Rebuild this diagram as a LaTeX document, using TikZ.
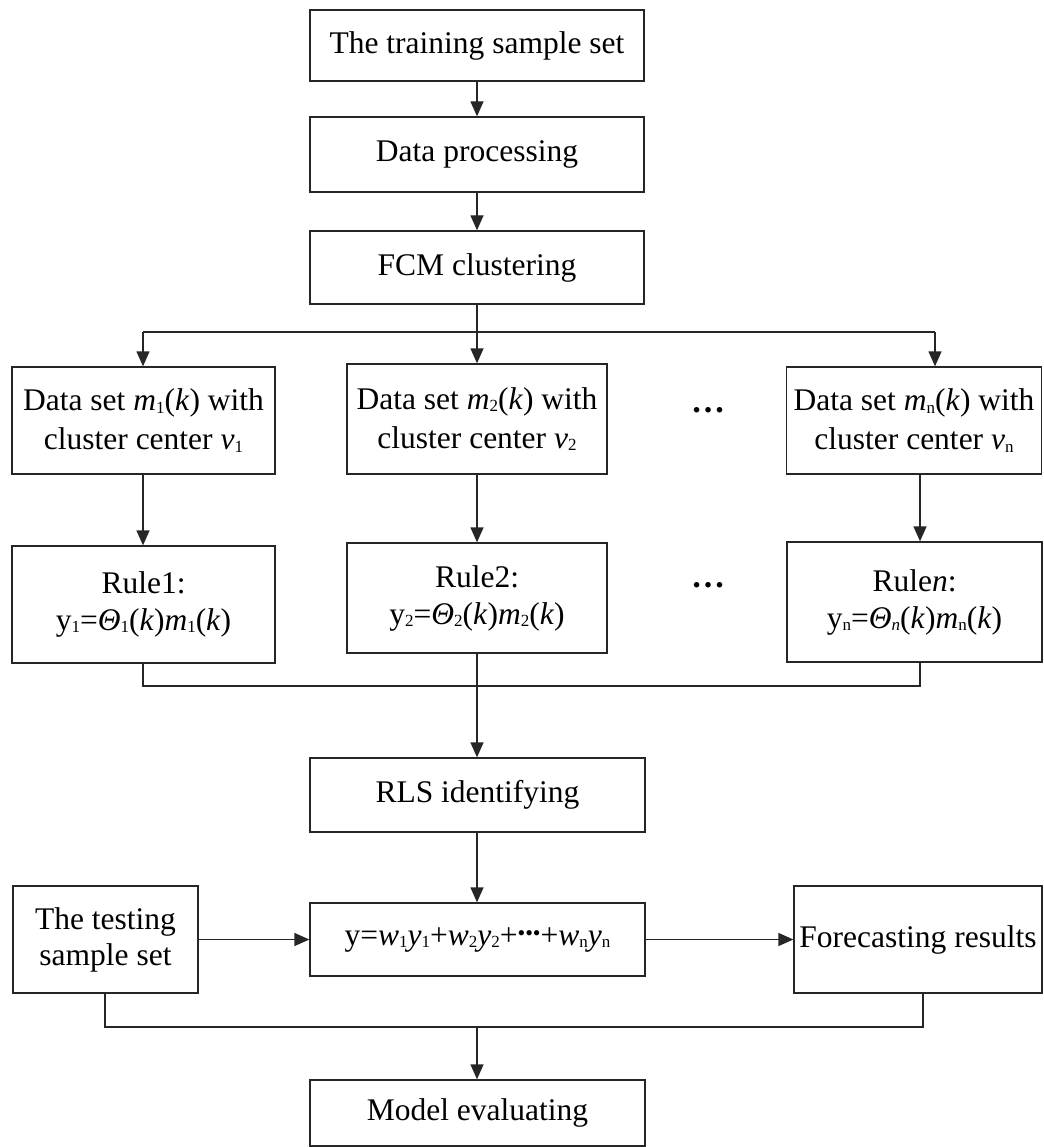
\documentclass[tikz,border=0pt]{standalone}
\usepackage{fontspec}
\setmainfont{Liberation Serif}
\usetikzlibrary{arrows.meta}
\newcommand{\sbs}[1]{\raisebox{-0.07em}{\fontsize{17pt}{17pt}\selectfont #1}}
\newcommand{\itx}[1]{\textit{#1}}
\begin{document}
\begin{tikzpicture}[x=1pt,y=-1pt,
  box/.style={draw=black!85, line width=1.3pt, rectangle, inner sep=0pt, align=center,
    font=\fontsize{31.5pt}{39pt}\selectfont},
  conn/.style={draw=black!85, line width=1.3pt},
  arr/.style={conn, -{Triangle[length=15pt,width=13pt]}}]
\useasboundingbox (0,0) rectangle (1043,1147);
% top chain
\node[box, minimum width=334pt, minimum height=71pt] (b1) at (477,45.5) {The training sample set};
\node[box, minimum width=334pt, minimum height=75pt] (b2) at (477,154.5) {Data processing};
\node[box, minimum width=334pt, minimum height=73pt] (b3) at (477,267.5) {FCM clustering};
% data set boxes
\node[box, minimum width=263pt, minimum height=107pt] (d1) at (143.5,420.5)
  {Data set \itx{m}\sbs{1}(\itx{k}) with\\cluster center \itx{v}\sbs{1}};
\node[box, minimum width=260pt, minimum height=110pt] (d2) at (477,419)
  {Data set \itx{m}\sbs{2}(\itx{k}) with\\cluster center \itx{v}\sbs{2}};
\node[box, minimum width=255pt, minimum height=107pt] (dn) at (914,420.5)
  {Data set \itx{m}\sbs{n}(\itx{k}) with\\cluster center \itx{v}\sbs{n}};
% rule boxes
\node[box, minimum width=263pt, minimum height=117pt, font=\fontsize{31.5pt}{37pt}\selectfont] (r1) at (143.5,604.5)
  {Rule1:\\y\sbs{1}=\itx{Θ}\sbs{1}(\itx{k})\itx{m}\sbs{1}(\itx{k})};
\node[box, minimum width=260pt, minimum height=110pt, font=\fontsize{31.5pt}{37pt}\selectfont] (r2) at (477,598)
  {Rule2:\\y\sbs{2}=\itx{Θ}\sbs{2}(\itx{k})\itx{m}\sbs{2}(\itx{k})};
\node[box, minimum width=255pt, minimum height=120pt, font=\fontsize{31.5pt}{37pt}\selectfont] (rn) at (914.5,602)
  {Rule\itx{n}:\\y\sbs{n}=\itx{Θ}\sbs{\itx{n}}(\itx{k})\itx{m}\sbs{n}(\itx{k})};
% dots
\node[font=\fontsize{34pt}{38pt}\selectfont\bfseries, inner sep=0pt] (dots1) at (708,410) {…};
\node[font=\fontsize{34pt}{38pt}\selectfont\bfseries, inner sep=0pt] (dots2) at (708,585) {…};
% lower part
\node[box, minimum width=335pt, minimum height=74pt] (rls) at (477.5,795) {RLS identifying};
\node[box, minimum width=335pt, minimum height=73pt] (f) at (477.5,939.5)
  {y=\itx{w}\sbs{1}\itx{y}\sbs{1}+\itx{w}\sbs{2}\itx{y}\sbs{2}+{\fontsize{22pt}{22pt}\selectfont\raisebox{0.2em}{•••}}+\itx{w}\sbs{n}\itx{y}\sbs{n}};
\node[box, minimum width=185pt, minimum height=107pt, font=\fontsize{31.5pt}{36pt}\selectfont] (test) at (105.5,939.5)
  {The testing\\sample set};
\node[box, minimum width=248pt, minimum height=107pt] (fore) at (918,939.5) {Forecasting results};
\node[box, minimum width=335pt, minimum height=66pt] (model) at (477.5,1113) {Model evaluating};
% junction coordinates
\coordinate (s0) at (477,332);
\coordinate (sL) at (143,332);
\coordinate (sR) at (935,332);
\coordinate (mL) at (143,686);
\coordinate (mC) at (477,686);
\coordinate (mR) at (920,686);
\coordinate (eL) at (105,1027);
\coordinate (eC) at (477,1027);
\coordinate (eR) at (923,1027);
% connectors
\draw[arr] (b1.south) -- (b2.north);
\draw[arr] (b2.south) -- (b3.north);
\draw[conn] (b3.south) -- (s0);
\draw[conn] (sL) -- (sR);
\draw[arr] (sL) -- (d1.north -| sL);
\draw[arr] (s0) -- (d2.north);
\draw[arr] (sR) -- (dn.north -| sR);
\draw[arr] (d1.south -| sL) -- (r1.north -| sL);
\draw[arr] (d2.south) -- (r2.north);
\draw[arr] (dn.south -| mR) -- (rn.north -| mR);
\draw[conn] (r1.south -| mL) -- (mL) -- (mR) -- (rn.south -| mR);
\draw[arr] (r2.south) -- (rls.north -| mC);
\draw[arr] (rls.south -| mC) -- (f.north -| mC);
\draw[arr] (test.east) -- (f.west);
\draw[arr] (f.east) -- (fore.west);
\draw[conn] (test.south -| eL) -- (eL) -- (eR) -- (fore.south -| eR);
\draw[arr] (eC) -- (model.north -| eC);
\end{tikzpicture}
\end{document}
